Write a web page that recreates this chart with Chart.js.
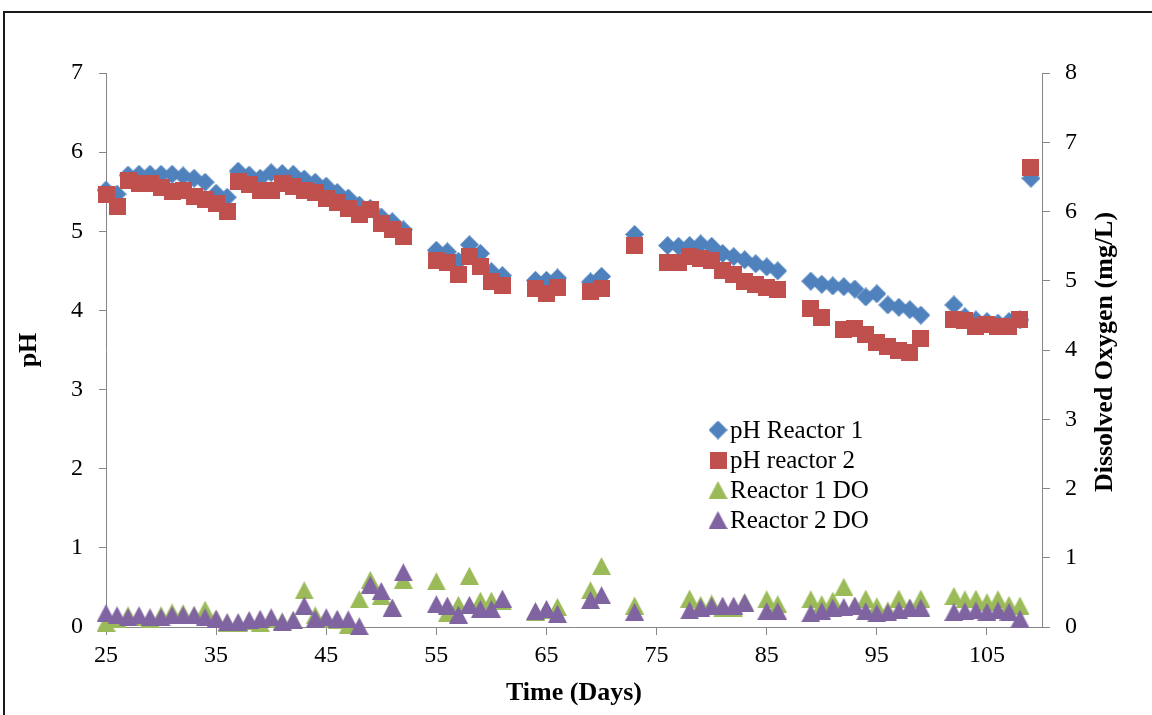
<!DOCTYPE html>
<html>
<head>
<meta charset="utf-8">
<script src="https://cdn.jsdelivr.net/npm/chart.js@4.4.1/dist/chart.umd.min.js"></script>
<style>
  html, body { margin: 0; padding: 0; background: #fff; overflow: hidden; }
  #wrap { position: relative; width: 1152px; height: 715px; }
  #frame { position: absolute; left: 3px; top: 11px; width: 1200px; height: 800px;
           border: 2px solid #1a1a1a; pointer-events: none; }
</style>
</head>
<body>
<div id="wrap">
  <canvas id="chart" width="1152" height="715"></canvas>
  <div id="frame"></div>
</div>
<script>
// sampling days (x values shared by all four series)
const days = [25,26,27,28,29,30,31,32,33,34,35,36,37,38,39,40,41,42,43,44,45,46,47,48,49,50,51,52,
  55,56,57,58,59,60,61, 64,65,66, 69,70, 73,
  76,77,78,79,80,81,82,83,84,85,86,
  89,90,91,92,93,94,95,96,97,98,99,
  102,103,104,105,106,107,108, 109];

// pH of reactor 1
const phReactor1 = [5.52,5.47,5.71,5.72,5.72,5.72,5.72,5.70,5.67,5.62,5.48,5.43,5.76,5.71,5.67,5.74,5.73,5.72,5.66,5.62,5.57,5.49,5.42,5.33,5.29,5.18,5.12,5.02,
  4.76,4.74,4.62,4.83,4.72,4.49,4.44, 4.38,4.38,4.41, 4.36,4.43, 4.96,
  4.82,4.81,4.82,4.84,4.81,4.72,4.68,4.64,4.59,4.55,4.50,
  4.37,4.33,4.31,4.30,4.27,4.17,4.21,4.07,4.04,4.01,3.94,
  4.07,3.92,3.88,3.86,3.84,3.86,3.88, 5.67];

// pH of reactor 2
const phReactor2 = [5.46,5.31,5.64,5.61,5.60,5.55,5.50,5.52,5.44,5.40,5.35,5.25,5.63,5.59,5.52,5.52,5.61,5.57,5.52,5.49,5.42,5.36,5.29,5.21,5.27,5.10,5.02,4.93,
  4.63,4.60,4.46,4.68,4.55,4.36,4.32, 4.28,4.22,4.29, 4.24,4.28, 4.82,
  4.61,4.60,4.68,4.65,4.63,4.51,4.45,4.37,4.33,4.29,4.26,
  4.02,3.91,null,3.76,3.77,3.70,3.60,3.55,3.50,3.47,3.64,
  3.88,3.87,3.80,3.82,3.80,3.80,3.89, 5.81];

// dissolved oxygen, mg/L
const doReactor1 = [0.06,0.12,0.17,0.14,0.12,0.17,0.21,0.20,0.17,0.25,0.12,0.06,0.06,0.08,0.06,0.12,0.08,0.10,0.53,0.17,0.12,0.10,0.03,0.40,0.68,0.45,0.27,0.68,
  0.66,0.20,0.32,0.74,0.38,0.38,0.37, 0.22,0.25,0.29, 0.53,0.88, 0.31,
  null,null,0.41,0.32,0.34,0.27,0.27,0.36,null,0.40,0.33,
  0.40,0.33,0.38,0.58,0.30,0.41,0.30,0.24,0.41,0.28,0.41,
  0.45,0.40,0.41,0.36,0.40,0.32,0.31, null];

const doReactor2 = [0.20,0.17,0.14,0.17,0.14,0.14,0.17,0.17,0.17,0.14,0.12,0.07,0.07,0.10,0.12,0.14,0.07,0.10,0.31,0.12,0.14,0.12,0.11,0.01,0.61,0.52,0.28,0.79,
  0.33,0.31,0.18,0.32,0.26,0.26,0.41, 0.23,0.26,0.19, 0.39,0.46, 0.22,
  null,null,0.24,0.28,0.30,0.31,0.31,0.35,null,0.23,0.23,
  0.20,0.23,0.28,0.29,0.31,0.23,0.20,0.21,0.24,0.28,0.28,
  0.22,0.23,0.24,0.22,0.24,0.22,0.12, null];

const xTicks = [25,35,45,55,65,75,85,95,105];
const seriesNames = ['pH Reactor 1', 'pH reactor 2', 'Reactor 1 DO', 'Reactor 2 DO'];

const FONT = "'Liberation Serif', 'Times New Roman', serif";
const AXIS = '#868686';

// small bitmap markers so every shape is centred on its point
function marker(shape, color) {
  const size = { diamond: [19, 19], square: [17, 17], triangle: [19, 18] }[shape];
  const c = document.createElement('canvas');
  c.width = size[0]; c.height = size[1];
  const g = c.getContext('2d');
  const w = size[0], h = size[1];
  g.fillStyle = color;
  g.beginPath();
  if (shape === 'diamond') {
    g.moveTo(w / 2, 0); g.lineTo(w, h / 2); g.lineTo(w / 2, h); g.lineTo(0, h / 2);
  } else if (shape === 'square') {
    g.rect(0, 0, w, h);
  } else {
    g.moveTo(w / 2, 0); g.lineTo(w, h); g.lineTo(0, h);
  }
  g.closePath();
  g.fill();
  return c;
}

function points(values) {
  return days.map((d, i) => ({ x: d, y: values[i] })).filter(p => p.y !== null);
}

const markers = [
  marker('diamond', '#4F81BD'),
  marker('square', '#C0504D'),
  marker('triangle', '#9BBB59'),
  marker('triangle', '#8064A2')
];

// legend drawn inside the plot area
const innerLegend = {
  id: 'innerLegend',
  afterDatasetsDraw(chart, args, opts) {
    const ctx = chart.ctx;
    ctx.save();
    ctx.font = opts.fontSize + 'px ' + FONT;
    ctx.fillStyle = '#000';
    ctx.textBaseline = 'middle';
    chart.data.datasets.forEach((ds, i) => {
      const y = opts.y + i * opts.row;
      const img = ds.pointStyle;
      ctx.drawImage(img, opts.x - img.width / 2, y - img.height / 2);
      ctx.fillText(ds.label, opts.x + 12, y + 1);
    });
    ctx.restore();
  }
};

// right-hand axis title, reading bottom to top like the left one
const rightTitle = {
  id: 'rightTitle',
  afterDraw(chart, args, opts) {
    const ctx = chart.ctx;
    const area = chart.chartArea;
    ctx.save();
    ctx.font = 'bold 26px ' + FONT;
    ctx.fillStyle = '#000';
    ctx.textAlign = 'center';
    ctx.textBaseline = 'middle';
    ctx.translate(chart.scales.y1.right - opts.inset, (area.top + area.bottom) / 2 + 2);
    ctx.rotate(-Math.PI / 2);
    ctx.fillText(opts.text, 0, 0);
    ctx.restore();
  }
};

const tickFont = { family: FONT, size: 24 };
const titleFont = { family: FONT, size: 26, weight: 'bold' };

new Chart(document.getElementById('chart').getContext('2d'), {
  type: 'scatter',
  data: {
    datasets: [
      { label: seriesNames[0], data: points(phReactor1), yAxisID: 'y', pointStyle: markers[0], order: 4, clip: false },
      { label: seriesNames[1], data: points(phReactor2), yAxisID: 'y', pointStyle: markers[1], order: 3, clip: false },
      { label: seriesNames[2], data: points(doReactor1), yAxisID: 'y1', pointStyle: markers[2], order: 2, clip: false },
      { label: seriesNames[3], data: points(doReactor2), yAxisID: 'y1', pointStyle: markers[3], order: 1, clip: false }
    ]
  },
  options: {
    responsive: false,
    animation: false,
    devicePixelRatio: 1,
    layout: { padding: { top: 73, left: 0, right: 0, bottom: 0 } },
    plugins: {
      legend: { display: false },
      tooltip: { enabled: false },
      innerLegend: { x: 718, y: 430, row: 30, fontSize: 25 },
      rightTitle: { text: 'Dissolved Oxygen (mg/L)', inset: 47 }
    },
    scales: {
      x: {
        type: 'linear',
        position: 'bottom',
        min: 25,
        max: 110,
        afterBuildTicks: s => { s.ticks = xTicks.map(v => ({ value: v })); },
        afterFit: s => { s.height = 88; },
        ticks: { font: tickFont, color: '#000', padding: 6, maxRotation: 0 },
        grid: { drawOnChartArea: false, drawTicks: true, tickLength: 8, color: AXIS },
        border: { color: AXIS },
        title: { display: true, text: 'Time (Days)', font: titleFont, color: '#000', padding: { top: 0, bottom: 6 } }
      },
      y: {
        position: 'left',
        min: 0,
        max: 7,
        afterFit: s => { s.width = 106; },
        ticks: { stepSize: 1, font: tickFont, color: '#000', padding: 16 },
        grid: { drawOnChartArea: false, drawTicks: true, tickLength: 7, color: AXIS },
        border: { color: AXIS },
        title: { display: true, text: 'pH', font: titleFont, color: '#000', padding: { top: 14, bottom: 0 } }
      },
      y1: {
        position: 'right',
        min: 0,
        max: 8,
        afterFit: s => { s.width = 110; },
        ticks: { stepSize: 1, font: tickFont, color: '#000', padding: 15 },
        grid: { drawOnChartArea: false, drawTicks: true, tickLength: 8, color: AXIS },
        border: { color: AXIS }
      }
    }
  },
  plugins: [innerLegend, rightTitle]
});
</script>
</body>
</html>
